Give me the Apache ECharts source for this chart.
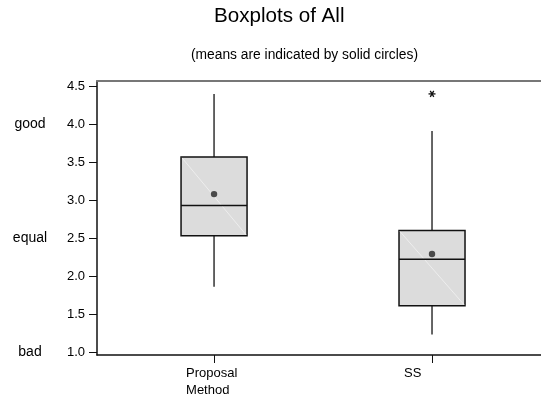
<!DOCTYPE html>
<html>
<head>
<meta charset="utf-8">
<script src="https://cdn.jsdelivr.net/npm/echarts@6/dist/echarts.min.js"></script>
<style>
html,body{margin:0;padding:0;background:#fff;}
#chart{width:541px;height:397px;}
</style>
</head>
<body>
<div id="chart"></div>
<script>
// ---- data ----
const categories = ['Proposal\nMethod', 'SS'];
const whiskerLow  = [1.86, 1.23];
const q1          = [2.53, 1.61];
const median      = [2.93, 2.22];
const q3          = [3.57, 2.60];
const whiskerHigh = [4.40, 3.91];
const means       = [3.08, 2.29];
const outliers    = [[2, 4.40]];           // [category position, value]
const yTicks      = [1.0, 1.5, 2.0, 2.5, 3.0, 3.5, 4.0, 4.5];
const qualTicks   = [1.0, 2.5, 4.0];
const qualLabels  = ['bad', 'equal', 'good'];

const FONT = '"Liberation Sans", Arial, sans-serif';
const Y_MIN = 0.96, Y_MAX = 4.57;
const X_MIN = 0.463, X_MAX = 2.5;

const boxData = categories.map((c, i) => [i + 1, whiskerLow[i], q1[i], median[i], q3[i], whiskerHigh[i], means[i]]);

function renderBox(params, api) {
  const x = api.value(0);
  const cx = api.coord([x, 0])[0];
  const yy = v => api.coord([x, v])[1];
  const yLow = yy(api.value(1)), yQ1 = yy(api.value(2)), yMed = yy(api.value(3));
  const yQ3 = yy(api.value(4)), yHigh = yy(api.value(5)), yMean = yy(api.value(6));
  const hw = 33;
  return {
    type: 'group',
    children: [
      { type: 'line', shape: { x1: cx, y1: yHigh, x2: cx, y2: yQ3 }, style: { stroke: '#333', lineWidth: 1.5 } },
      { type: 'line', shape: { x1: cx, y1: yQ1, x2: cx, y2: yLow }, style: { stroke: '#333', lineWidth: 1.5 } },
      { type: 'rect', shape: { x: cx - hw, y: yQ3, width: hw * 2, height: yQ1 - yQ3 }, style: { fill: '#dcdcdc', stroke: '#111', lineWidth: 1.5 } },
      { type: 'line', shape: { x1: cx - hw + 1, y1: yQ3 + 1, x2: cx + hw - 1, y2: yQ1 - 1 }, style: { stroke: '#eeeeee', lineWidth: 1 } },
      { type: 'line', shape: { x1: cx - hw, y1: yMed, x2: cx + hw, y2: yMed }, style: { stroke: '#111', lineWidth: 1.5 } },
      { type: 'circle', shape: { cx: cx, cy: yMean, r: 3.2 }, style: { fill: '#4a4a4a' } }
    ]
  };
}

function renderStar(params, api) {
  const p = api.coord([api.value(0), api.value(1)]);
  const r = 3.5;
  const st = { stroke: '#111', lineWidth: 1.3 };
  const d = r * Math.sin(Math.PI / 3), e = r * Math.cos(Math.PI / 3);
  return {
    type: 'group',
    children: [
      { type: 'line', shape: { x1: p[0] - r, y1: p[1], x2: p[0] + r, y2: p[1] }, style: st },
      { type: 'line', shape: { x1: p[0] - e, y1: p[1] - d, x2: p[0] + e, y2: p[1] + d }, style: st },
      { type: 'line', shape: { x1: p[0] + e, y1: p[1] - d, x2: p[0] - e, y2: p[1] + d }, style: st }
    ]
  };
}

const chart = echarts.init(document.getElementById('chart'), null, { renderer: 'canvas' });
chart.setOption({
  backgroundColor: '#fff',
  animation: false,
  title: [
    { text: 'Boxplots of All', left: 214, top: 6, padding: 0,
      textStyle: { fontFamily: FONT, fontSize: 20.6, fontWeight: 'normal', color: '#000' } },
    { text: '(means are indicated by solid circles)', left: 191, top: 48, padding: 0,
      textStyle: { fontFamily: FONT, fontSize: 13.8, fontWeight: 'normal', color: '#000' } }
  ],
  grid: { left: 97, right: 0, top: 81, bottom: 41, containLabel: false },
  xAxis: [
    {
      type: 'value', min: X_MIN, max: X_MAX, position: 'bottom',
      splitLine: { show: false },
      axisLine: { show: true, onZero: false, lineStyle: { color: '#111', width: 1.5 } },
      axisTick: { show: true, length: 8, lineStyle: { color: '#111', width: 1 }, customValues: [1, 2] },
      axisLabel: {
        customValues: [1, 2], margin: 10, align: 'center',
        formatter: v => categories[Math.round(v) - 1].split('\n').map(s => '{a|' + s + '}').join('\n'),
        rich: { a: { width: 56, align: 'left', fontFamily: FONT, fontSize: 13, color: '#000', lineHeight: 17 } }
      }
    },
    {
      type: 'value', min: X_MIN, max: X_MAX, position: 'top',
      splitLine: { show: false },
      axisLine: { show: true, onZero: false, lineStyle: { color: '#777', width: 2 } },
      axisTick: { show: false }, axisLabel: { show: false }
    }
  ],
  yAxis: [
    {
      type: 'value', min: Y_MIN, max: Y_MAX, position: 'left',
      splitLine: { show: false },
      axisLine: { show: true, onZero: false, lineStyle: { color: '#111', width: 1.5 } },
      axisTick: { show: true, length: 8, customValues: yTicks, lineStyle: { color: '#111', width: 1 } },
      axisLabel: { customValues: yTicks, margin: 12, formatter: v => v.toFixed(1),
        fontFamily: FONT, fontSize: 13, color: '#000' }
    },
    {
      type: 'value', min: Y_MIN, max: Y_MAX, position: 'left',
      splitLine: { show: false }, axisLine: { show: false }, axisTick: { show: false },
      axisLabel: { customValues: qualTicks, margin: 67, align: 'center',
        formatter: v => qualLabels[qualTicks.indexOf(v)],
        fontFamily: FONT, fontSize: 14, color: '#000' }
    }
  ],
  series: [
    { type: 'custom', xAxisIndex: 0, yAxisIndex: 0, data: boxData, renderItem: renderBox, silent: true },
    { type: 'custom', xAxisIndex: 0, yAxisIndex: 0, data: outliers, renderItem: renderStar, silent: true }
  ]
});
</script>
</body>
</html>
